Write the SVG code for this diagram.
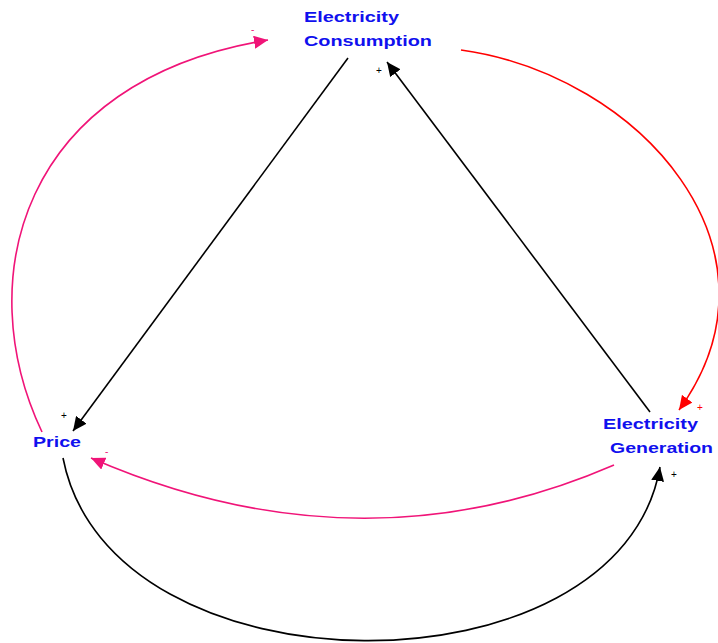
<svg xmlns="http://www.w3.org/2000/svg" width="718" height="643" viewBox="0 0 718 643">
<style>
.lbl{font-family:"Liberation Sans",Arial,sans-serif;font-weight:bold;font-size:15.5px;fill:#1010ee}
.sg{font-family:"Liberation Sans",Arial,sans-serif;font-size:10px}
.c{fill:none;stroke-width:1.6}
</style>
<defs>
<marker id="ab" markerUnits="userSpaceOnUse" markerWidth="15" markerHeight="13" refX="14" refY="6.5" orient="auto"><path d="M0,0 L14,6.5 L0,13 z" fill="#000"/></marker>
<marker id="ar" markerUnits="userSpaceOnUse" markerWidth="15" markerHeight="13" refX="14" refY="6.5" orient="auto"><path d="M0,0 L14,6.5 L0,13 z" fill="#ff0000"/></marker>
<marker id="ap" markerUnits="userSpaceOnUse" markerWidth="15" markerHeight="13" refX="14" refY="6.5" orient="auto"><path d="M0,0 L14,6.5 L0,13 z" fill="#f01478"/></marker>
</defs>
<rect width="718" height="643" fill="#fff"/>
<g id="connectors">
<path class="c" d="M348,58 L73,431" stroke="#000" marker-end="url(#ab)"/>
<path class="c" d="M650,412 L387,62" stroke="#000" marker-end="url(#ab)"/>
<path class="c" d="M461,50 C640,75 795,250 679,410" stroke="#ff0000" marker-end="url(#ar)"/>
<path class="c" d="M614,465 Q360,575 91,458" stroke="#f01478" marker-end="url(#ap)"/>
<path class="c" d="M42,432 C-30,280 20,80 268,40" stroke="#f01478" marker-end="url(#ap)"/>
<path class="c" d="M63,458 C110,700 620,700 660,467" stroke="#000" marker-end="url(#ab)"/>
<text class="sg" x="61" y="419" fill="#000">+</text>
<text class="sg" x="376" y="74" fill="#000">+</text>
<text class="sg" x="697" y="411" fill="#ff0000">+</text>
<text class="sg" x="671" y="478" fill="#000">+</text>
<text class="sg" x="105" y="455" fill="#f01478">-</text>
<text class="sg" x="251" y="33" fill="#f01478">-</text>
</g>
<g id="consumption">
<text class="lbl" x="304" y="22" textLength="95" lengthAdjust="spacingAndGlyphs">Electricity</text>
<text class="lbl" x="304" y="46" textLength="128" lengthAdjust="spacingAndGlyphs">Consumption</text>
</g>
<g id="price">
<text class="lbl" x="33" y="447" textLength="48" lengthAdjust="spacingAndGlyphs">Price</text>
</g>
<g id="generation">
<text class="lbl" x="603" y="429" textLength="95" lengthAdjust="spacingAndGlyphs">Electricity</text>
<text class="lbl" x="610" y="453" textLength="103" lengthAdjust="spacingAndGlyphs">Generation</text>
</g>
</svg>
